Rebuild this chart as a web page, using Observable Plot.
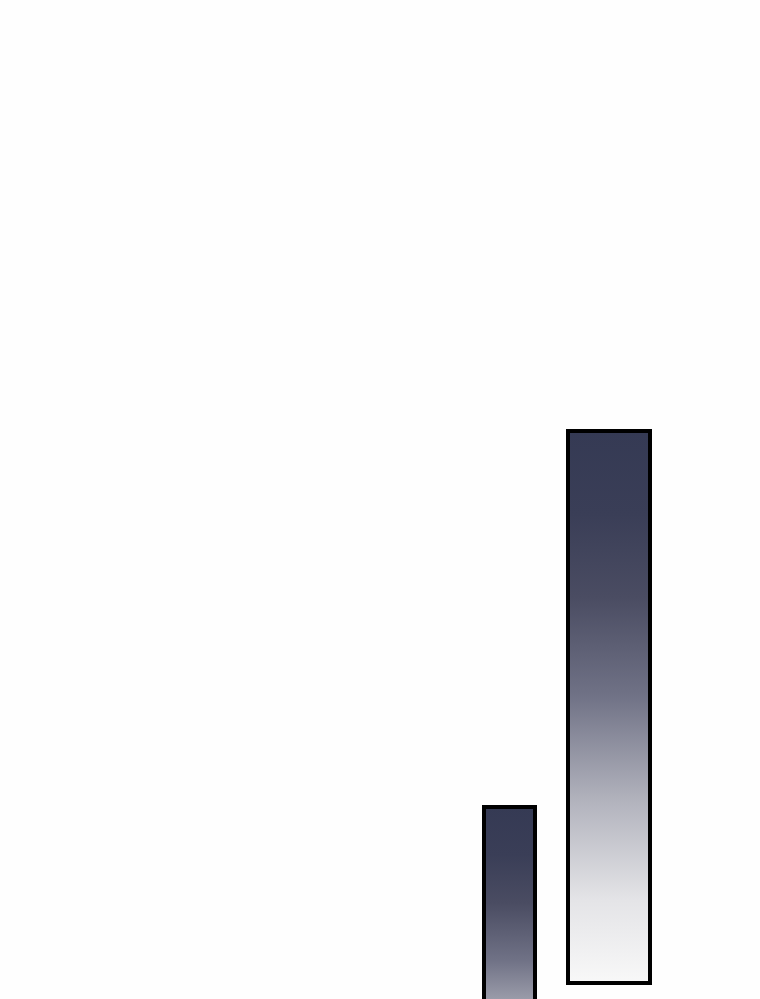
<!DOCTYPE html>
<html>
<head>
<meta charset="utf-8">
<script src="https://cdn.jsdelivr.net/npm/d3@7"></script>
<script src="https://cdn.jsdelivr.net/npm/@observablehq/plot@0.6"></script>
<style>
  html, body { margin: 0; padding: 0; background: #fefefe; overflow: hidden; }
</style>
</head>
<body>
<div id="chart"></div>
<script>
// Floating bars (chart units)
const categories = ["A", "B"];
const xStart = [48.4, 56.8];
const xEnd = [53.5, 65.0];
const yLow = [1.3, 15.7];
const yHigh = [33.3, 70.9];

const data = categories.map((c, i) => ({
  cat: c, x1: xStart[i], x2: xEnd[i], y1: yLow[i], y2: yHigh[i]
}));

const chart = Plot.plot({
  width: 760,
  height: 1140,
  margin: 0,
  style: { background: "#fefefe" },
  x: { domain: [0, 76], range: [0, 760], axis: null },
  y: { domain: [0, 114], range: [1140, 0], axis: null },
  marks: [
    Plot.rect(data, {
      x1: "x1", x2: "x2", y1: "y1", y2: "y2",
      fill: "url(#barGrad)",
      stroke: "#000",
      strokeWidth: 4
    })
  ]
});

const ns = "http://www.w3.org/2000/svg";
const defs = document.createElementNS(ns, "defs");
const grad = document.createElementNS(ns, "linearGradient");
grad.setAttribute("id", "barGrad");
grad.setAttribute("x1", "0"); grad.setAttribute("y1", "0");
grad.setAttribute("x2", "0"); grad.setAttribute("y2", "1");
[[0, "#353a54"], [0.15, "#3a3e57"], [0.3, "#4a4c62"], [0.48, "#707286"],
 [0.67, "#b2b3bd"], [0.85, "#e4e4e7"], [1, "#f8f8f8"]].forEach(([o, c]) => {
  const s = document.createElementNS(ns, "stop");
  s.setAttribute("offset", o);
  s.setAttribute("stop-color", c);
  grad.appendChild(s);
});
defs.appendChild(grad);
chart.insertBefore(defs, chart.firstChild);

document.getElementById("chart").appendChild(chart);
</script>
</body>
</html>
